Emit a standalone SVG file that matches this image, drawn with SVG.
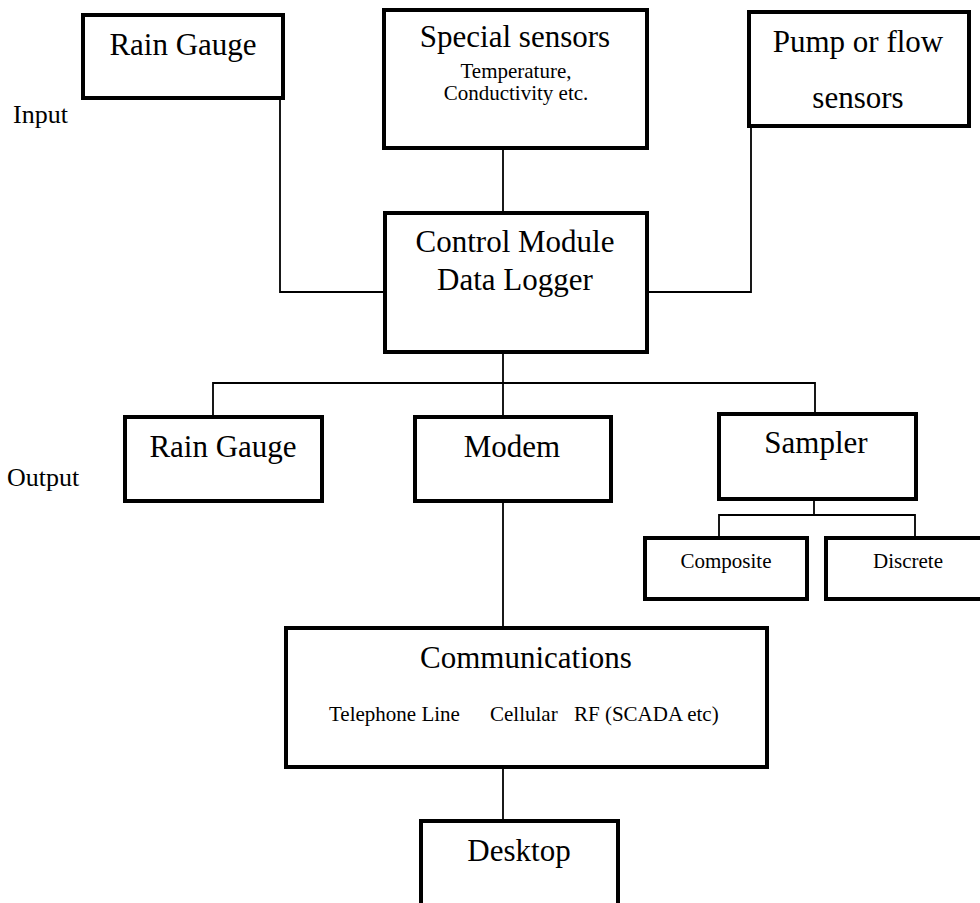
<svg xmlns="http://www.w3.org/2000/svg" width="980" height="903" viewBox="0 0 980 903">
<style>
.box{fill:#fff;stroke:#000;stroke-width:4}
.ln{fill:none;stroke:#000;stroke-width:1.8}
text{font-family:"Liberation Serif","Times New Roman",serif;fill:#000}
.big{font-size:31px;text-anchor:middle}
.sm{font-size:21px}
.smc{font-size:21px;text-anchor:middle}
.lab{font-size:26px}
</style>
<rect width="980" height="903" fill="#fff"/>
<g id="connectors">
<polyline class="ln" points="280,98 280,292 385,292"/>
<line class="ln" x1="503" y1="148" x2="503" y2="213"/>
<polyline class="ln" points="751,126 751,292 647,292"/>
<line class="ln" x1="503" y1="352" x2="503" y2="417"/>
<polyline class="ln" points="213,417 213,383 815,383 815,414"/>
<line class="ln" x1="814" y1="499" x2="814" y2="515"/>
<polyline class="ln" points="719,538 719,515 915,515 915,538"/>
<line class="ln" x1="503" y1="501" x2="503" y2="628"/>
<line class="ln" x1="503" y1="767" x2="503" y2="821"/>
</g>
<g id="input-label"><text class="lab" x="13" y="123">Input</text></g>
<g id="output-label"><text class="lab" x="7" y="486">Output</text></g>
<g id="rain-gauge-in">
<rect class="box" x="83" y="15" width="200" height="83"/>
<text class="big" x="183" y="55">Rain Gauge</text>
</g>
<g id="special-sensors">
<rect class="box" x="384" y="10" width="263" height="138"/>
<text class="big" x="515" y="47">Special sensors</text>
<text class="smc" x="516" y="78">Temperature,</text>
<text class="smc" x="516" y="100">Conductivity etc.</text>
</g>
<g id="pump-flow">
<rect class="box" x="749" y="12" width="220" height="114"/>
<text class="big" x="858" y="52">Pump or flow</text>
<text class="big" x="858" y="108">sensors</text>
</g>
<g id="control-module">
<rect class="box" x="385" y="213" width="262" height="139"/>
<text class="big" x="515" y="252">Control Module</text>
<text class="big" x="515" y="290">Data Logger</text>
</g>
<g id="rain-gauge-out">
<rect class="box" x="125" y="417" width="197" height="84"/>
<text class="big" x="223" y="457">Rain Gauge</text>
</g>
<g id="modem">
<rect class="box" x="415" y="417" width="196" height="84"/>
<text class="big" x="512" y="457">Modem</text>
</g>
<g id="sampler">
<rect class="box" x="719" y="414" width="197" height="85"/>
<text class="big" x="816" y="453">Sampler</text>
</g>
<g id="composite">
<rect class="box" x="645" y="538" width="162" height="61"/>
<text class="smc" x="726" y="568">Composite</text>
</g>
<g id="discrete">
<rect class="box" x="826" y="538" width="170" height="61"/>
<text class="smc" x="908" y="568">Discrete</text>
</g>
<g id="communications">
<rect class="box" x="286" y="628" width="481" height="139"/>
<text class="big" x="526" y="668">Communications</text>
<text class="sm" x="329" y="721">Telephone Line</text>
<text class="sm" x="490" y="721">Cellular</text>
<text class="sm" x="574" y="721">RF (SCADA etc)</text>
</g>
<g id="desktop">
<rect class="box" x="421" y="821" width="197" height="100"/>
<text class="big" x="519" y="861">Desktop</text>
</g>
</svg>
